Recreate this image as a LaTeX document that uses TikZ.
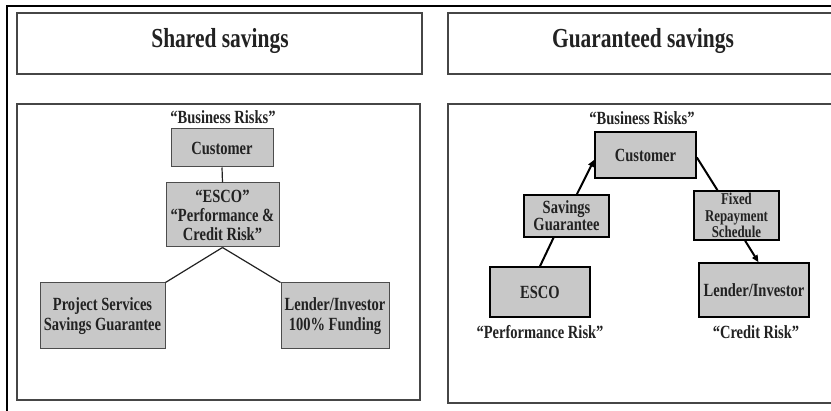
\documentclass[tikz,border=0pt]{standalone}
\usepackage{fontspec}
\setmainfont{Liberation Serif}[FakeStretch=0.78]
\usetikzlibrary{calc,arrows.meta}
\definecolor{boxfill}{HTML}{C8C8C8}
\definecolor{ink}{HTML}{222222}
\tikzset{
  txt/.style={text=ink,font=\bfseries\fontsize{18.6}{19.5}\selectfont,align=center,inner sep=0pt},
  lbox/.style={txt,draw=gray!60!black,fill=boxfill,line width=1pt},
  rbox/.style={txt,draw=black,fill=boxfill,line width=1.6pt},
  frame/.style={draw=gray!55!black,line width=1.2pt},
  lconn/.style={draw=ink,line width=1.2pt},
  rconn/.style={draw=black,line width=2pt},
  rarrow/.style={rconn,-{Triangle[length=7pt,width=6pt]}},
}
\begin{document}
\begin{tikzpicture}[x=1pt,y=-1pt]
\useasboundingbox (0,0) rectangle (831,411);
% outer frame (cropped)
\draw[black,line width=2.2pt] (7,411) -- (7,6) -- (832,6);
% title boxes
\draw[frame] (17,13) rectangle (422,74);
\draw[frame] (448,13) rectangle (840,74);
\node[txt,font=\bfseries\fontsize{27.5}{28}\selectfont] (t1) at (220,41) {Shared savings};
\node[txt,font=\bfseries\fontsize{27.5}{28}\selectfont] (t2) at (643,41) {Guaranteed savings};
% panel boxes
\draw[frame] (17,104) rectangle (420,400);
\draw[frame] (448,104) rectangle (840,403);
% ---- left panel
\node[txt] (lbr) at (223,117) {“Business Risks”};
\node[lbox,minimum width=102pt,minimum height=38pt] (lc) at (222,148) {Customer};
\node[lbox,minimum width=113pt,minimum height=64pt,font=\bfseries\fontsize{18.6}{19}\selectfont] (le) at (222.5,215) {“ESCO”\\“Performance \&\\Credit Risk”};
\node[lbox,minimum width=125pt,minimum height=66pt,font=\bfseries\fontsize{18.6}{20}\selectfont] (lp) at (102.5,316) {Project Services\\Savings Guarantee};
\node[lbox,minimum width=108pt,minimum height=66pt,font=\bfseries\fontsize{18.6}{20}\selectfont] (ll) at (335,316) {Lender/Investor\\100\% Funding};
\draw[lconn] (lc.south) -- (le.north);
\draw[lconn] (le.south) -- (lp.north east);
\draw[lconn] (le.south) -- (ll.north west);
% ---- right panel
\node[txt] (rbr) at (642,118) {“Business Risks”};
\node[rbox,minimum width=101pt,minimum height=46pt] (rc) at (645.5,155) {Customer};
\node[rbox,minimum width=85pt,minimum height=42pt,font=\bfseries\fontsize{18.6}{17}\selectfont] (rsg) at (566.5,216) {Savings\\Guarantee};
\node[rbox,minimum width=100pt,minimum height=50pt] (re) at (540,292) {ESCO};
\node[rbox,minimum width=85pt,minimum height=49pt,font=\bfseries\fontsize{16.5}{16.5}\selectfont] (rf) at (736.5,215.5) {Fixed\\Repayment\\Schedule};
\node[rbox,minimum width=110pt,minimum height=54pt] (rl) at (754,290) {Lender/Investor};
\node[txt] (rpr) at (540,332) {“Performance Risk”};
\node[txt] (rcr) at (756,332) {“Credit Risk”};
\draw[rconn] (re.north) -- ($(rsg.south west)!0.35!(rsg.south east)$);
\draw[rarrow] ($(rsg.north west)!0.62!(rsg.north east)$) -- ($(rc.north west)!0.6!(rc.south west)$);
\draw[rconn] ($(rc.north east)!0.55!(rc.south east)$) -- ($(rf.north west)!0.28!(rf.north east)$);
\draw[rarrow] ($(rf.south west)!0.6!(rf.south east)$) -- ($(rl.north west)!0.54!(rl.north east)$);
\end{tikzpicture}
\end{document}
